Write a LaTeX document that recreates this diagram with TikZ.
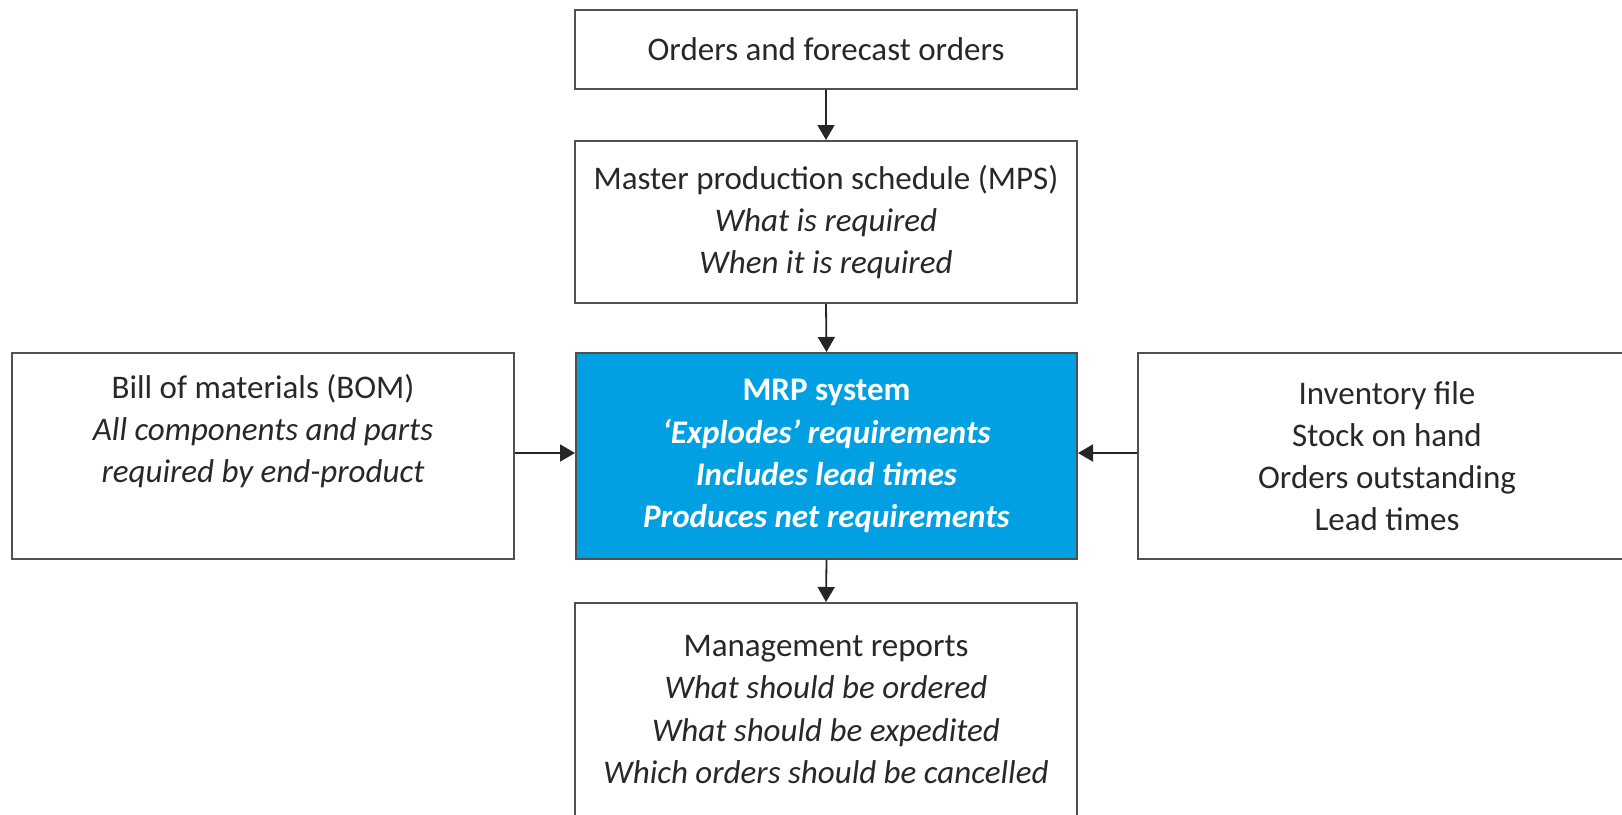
\documentclass[tikz,border=0pt]{standalone}
\usepackage{fontspec}
\setmainfont{Carlito}
\usetikzlibrary{arrows.meta}
\definecolor{mrpblue}{RGB}{0,160,227}
\definecolor{boxline}{RGB}{80,80,80}
\definecolor{txt}{RGB}{40,40,40}
\tikzset{
  box/.style={draw=boxline, line width=1pt, fill=white, inner sep=0pt, align=center,
    text=txt, font=\fontsize{16.5}{21.1}\selectfont},
  mrpbox/.style={box, fill=mrpblue, text=white, font=\fontsize{16.5}{21.1}\selectfont\bfseries},
  conn/.style={draw=black!85, line width=0.9pt, -{Triangle[width=8.5pt,length=7.5pt]}}
}
\begin{document}
\begin{tikzpicture}[x=0.5pt,y=-0.5pt]
\useasboundingbox (0,0) rectangle (1622,814);
\clip (0,0) rectangle (1622,814);
\node[box, minimum width=251pt, minimum height=39.5pt] (orders) at (826,49.5) {Orders and forecast orders};
\node[box, minimum width=251pt, minimum height=81pt] (mps) at (826,222) {Master production schedule (MPS)\\ \textit{What is required}\\ \textit{When it is required}};
\node[mrpbox, minimum width=250.5pt, minimum height=103pt] (mrp) at (826.5,456) {MRP system\\ \textit{‘Explodes’ requirements}\\ \textit{Includes lead times}\\ \textit{Produces net requirements}};
\node[box, minimum width=251pt, minimum height=103pt] (bom) at (263,456) {Bill of materials (BOM)\\ \textit{All components and parts}\\ \textit{required by end-product}\\ \strut};
\node[box, minimum width=249pt, minimum height=103pt] (inv) at (1387,456) {Inventory file\\ Stock on hand\\ Orders outstanding\\ Lead times};
\node[box, minimum width=251pt, minimum height=106.5pt] (mgmt) at (826,709.5) {Management reports\\ \textit{What should be ordered}\\ \textit{What should be expedited}\\ \textit{Which orders should be cancelled}};
\draw[conn] (orders.south) -- (mps.north);
\draw[conn] (mps.south) -- (mrp.north);
\draw[conn] (mrp.south) -- (mgmt.north);
\draw[conn] ([yshift=1.5pt]bom.east) -- ([yshift=1.5pt]mrp.west);
\draw[conn] ([yshift=1.5pt]inv.west) -- ([yshift=1.5pt]mrp.east);
\end{tikzpicture}
\end{document}
